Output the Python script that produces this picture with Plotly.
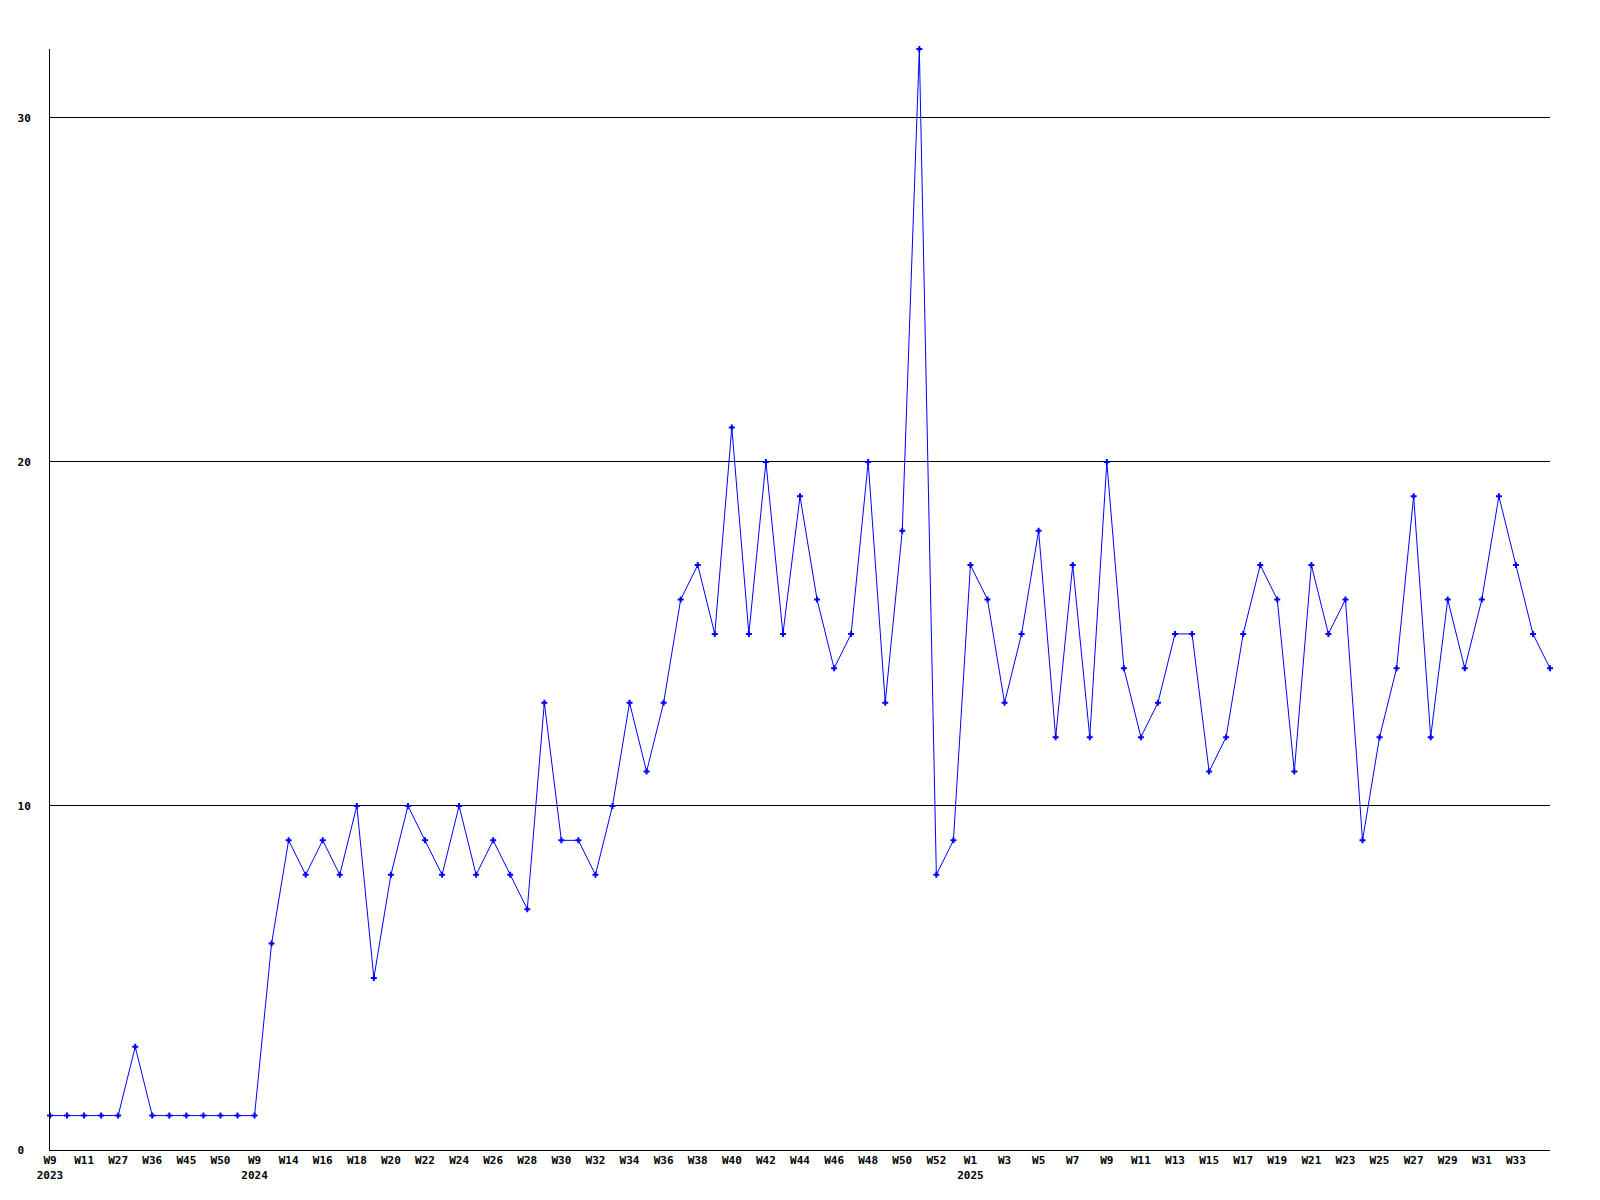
import plotly.graph_objects as go

weeks = (
    ["W9", "W10", "W11", "W25", "W27", "W33", "W36", "W42", "W45", "W48", "W50", "W51"]
    + ["W9", "W13"] + ["W%d" % w for w in range(14, 54)]
    + ["W%d" % w for w in range(1, 36)]
)
years = [2023] * 12 + [2024] * 42 + [2025] * 35

values = [
    1, 1, 1, 1, 1, 3, 1, 1, 1, 1, 1, 1,
    1, 6, 9, 8, 9, 8, 10, 5, 8, 10, 9, 8, 10, 8, 9, 8, 7, 13,
    9, 9, 8, 10, 13, 11, 13, 16, 17, 15, 21, 15, 20, 15, 19, 16,
    14, 15, 20, 13, 18, 32, 8, 9,
    17, 16, 13, 15, 18, 12, 17, 12, 20, 14, 12, 13, 15, 15, 11, 12,
    15, 17, 16, 11, 17, 15, 16, 9, 12, 14, 19, 12, 16, 14, 16, 19,
    17, 15, 14,
]

y_ticks = [0, 10, 20, 30]
y_ticktext = ["0\u00a0", "10", "20", "30"]

idx = list(range(len(values)))

tickvals = []
ticktext = []
for i in idx[:-2]:
    if i % 2 == 0:
        label = weeks[i]
        if i == 0 or years[i] != years[i - 1] or years[i] != years[i - 2]:
            label = label + "<br>" + str(years[i])
        tickvals.append(i)
        ticktext.append(label)

fig = go.Figure()
fig.add_trace(go.Scatter(
    x=idx, y=values, mode="lines+markers",
    line=dict(color="#0000ff", width=1),
    marker=dict(symbol="cross", size=5, color="#0000ff", line=dict(width=0)),
    cliponaxis=False,
    hoverinfo="y",
))

font_fam = "DejaVu Sans Mono"
fig.update_layout(
    width=1600, height=1200,
    margin=dict(l=42, r=58, t=41, b=58, pad=0, autoexpand=False),
    paper_bgcolor="white", plot_bgcolor="white",
    showlegend=False,
    font=dict(family=font_fam, size=11, color="black"),
    xaxis=dict(
        range=[0, len(values) - 1],
        tickmode="array", tickvals=tickvals, ticktext=ticktext,
        showgrid=False, zeroline=False, automargin=False,
        showline=True, linecolor="black", linewidth=1,
        ticks="", tickangle=0,
        tickfont=dict(family=font_fam, size=11, color="black", weight="bold"),
    ),
    yaxis=dict(
        range=[0, 32],
        tickmode="array", tickvals=y_ticks, ticktext=y_ticktext,
        showgrid=True, gridcolor="black", gridwidth=1,
        zeroline=False, automargin=False,
        showline=True, linecolor="black", linewidth=1,
        ticks="", ticklabelstandoff=16,
        tickfont=dict(family=font_fam, size=11, color="black", weight="bold"),
    ),
)

fig.write_html("out.html")
